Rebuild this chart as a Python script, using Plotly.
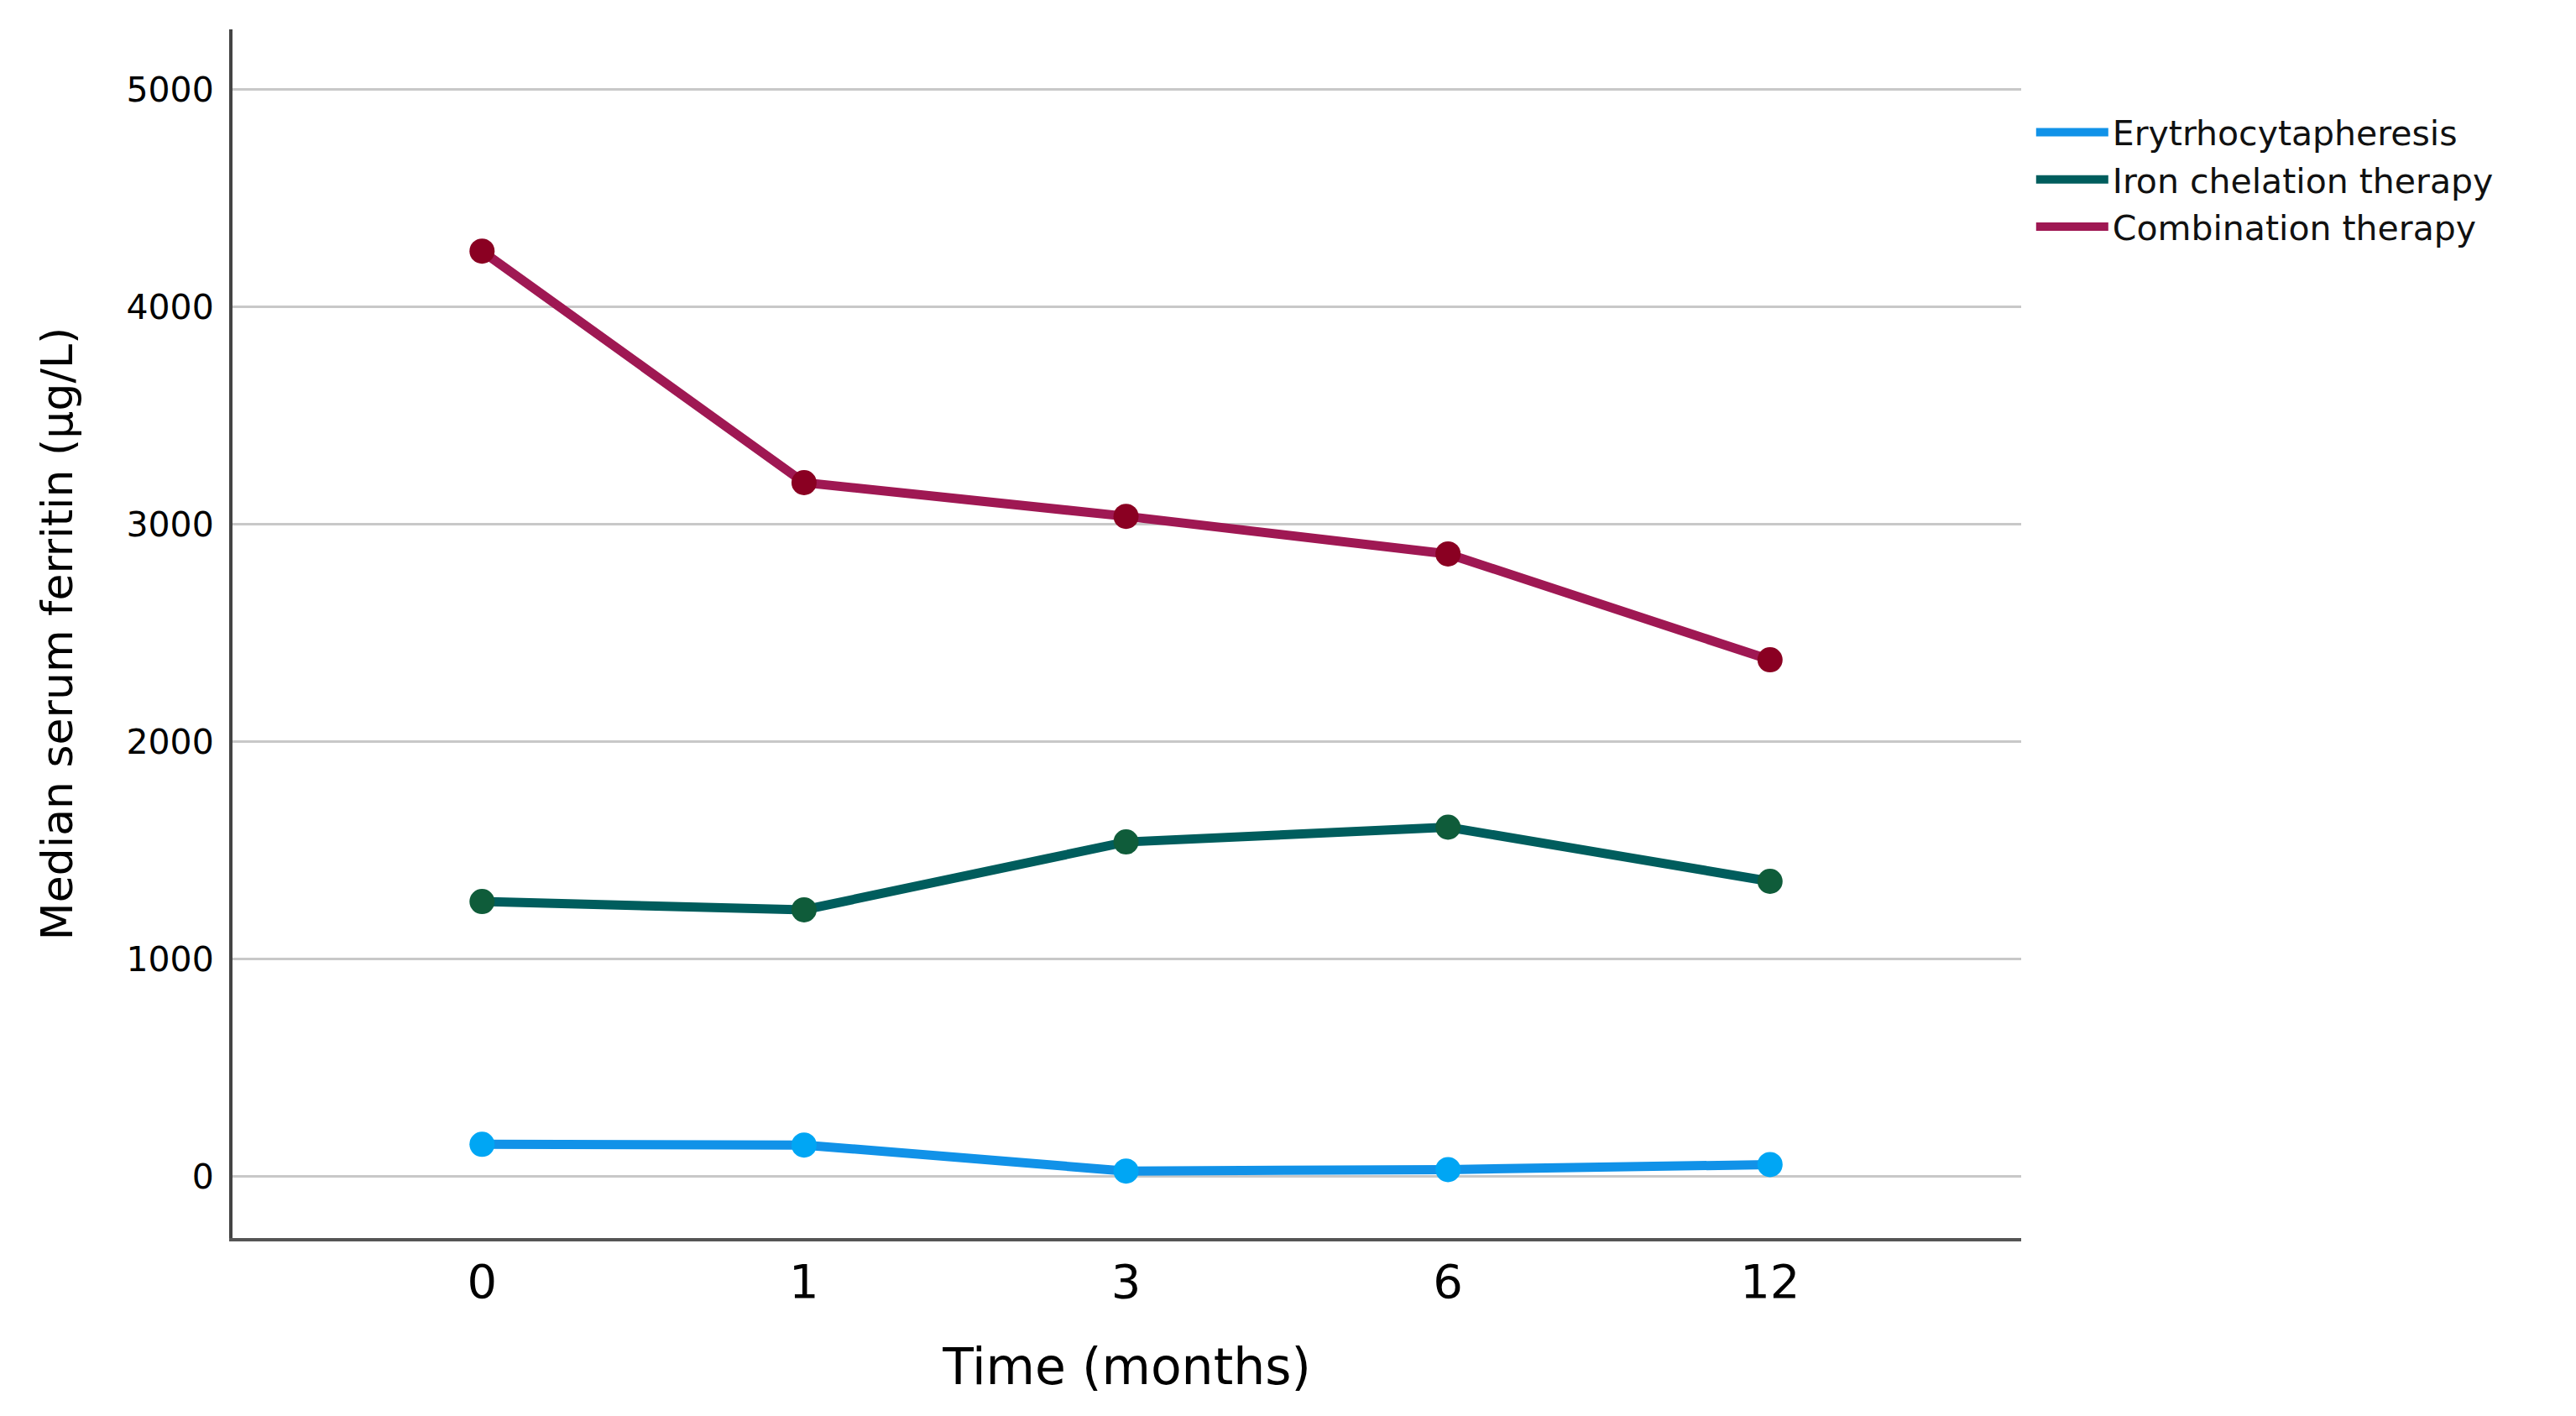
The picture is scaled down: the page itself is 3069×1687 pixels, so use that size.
import plotly.graph_objects as go

months = ["0", "1", "3", "6", "12"]
erythro = [146, 143, 23, 30, 53]
iron = [1263, 1225, 1537, 1605, 1356]
combo = [4255, 3190, 3035, 2862, 2375]

series = [
    ("Erytrhocytapheresis", erythro, "#1192e8", "#00a6f4"),
    ("Iron chelation therapy", iron, "#005d5d", "#0f5c3a"),
    ("Combination therapy", combo, "#9f1853", "#8a0022"),
]

y_ticks = [0, 1000, 2000, 3000, 4000, 5000]

fig = go.Figure()
for name, vals, lc, mc in series:
    fig.add_trace(go.Scatter(x=months, y=vals, mode="lines", name=name,
                             line=dict(color=lc, width=11), showlegend=True))
for name, vals, lc, mc in series:
    fig.add_trace(go.Scatter(x=months, y=vals, mode="markers", name=name,
                             marker=dict(color=mc, size=30, line=dict(width=0)),
                             showlegend=False))

font_family = "DejaVu Sans"
fig.update_layout(
    width=3069, height=1687,
    margin=dict(l=269, r=669, t=27, b=220),
    paper_bgcolor="white", plot_bgcolor="white",
    font=dict(family=font_family, color="#000000"),
    legend=dict(x=1.006, y=0.938, xanchor="left", yanchor="top",
                font=dict(size=41, family=font_family, color="#111111"),
                itemwidth=86, bgcolor="rgba(0,0,0,0)", borderwidth=0,
                tracegroupgap=0),
    showlegend=True,
)
fig.update_xaxes(
    type="category", range=[-0.775, 4.78],
    showline=True, linecolor="#555555", linewidth=4, mirror=False,
    showgrid=False, zeroline=False, ticks="",
    tickfont=dict(size=56, family=font_family, color="#000000"),
    ticklabelstandoff=0,
    title=dict(text="Time (months)", font=dict(size=60, family=font_family, color="#000000"),
               standoff=50),
    automargin=False,
)
fig.update_yaxes(
    range=[-285, 5275], tickvals=y_ticks, ticktext=[str(v) for v in y_ticks],
    showline=True, linecolor="#444444", linewidth=4, mirror=False,
    showgrid=True, gridcolor="#c8c8c8", gridwidth=3, zeroline=False, ticks="",
    tickfont=dict(size=41, family=font_family, color="#000000"),
    ticklabelstandoff=10,
    title=dict(text="Median serum ferritin (μg/L)", font=dict(size=52, family=font_family, color="#000000"),
               standoff=48),
    automargin=False,
)

fig.write_html("out.html")
